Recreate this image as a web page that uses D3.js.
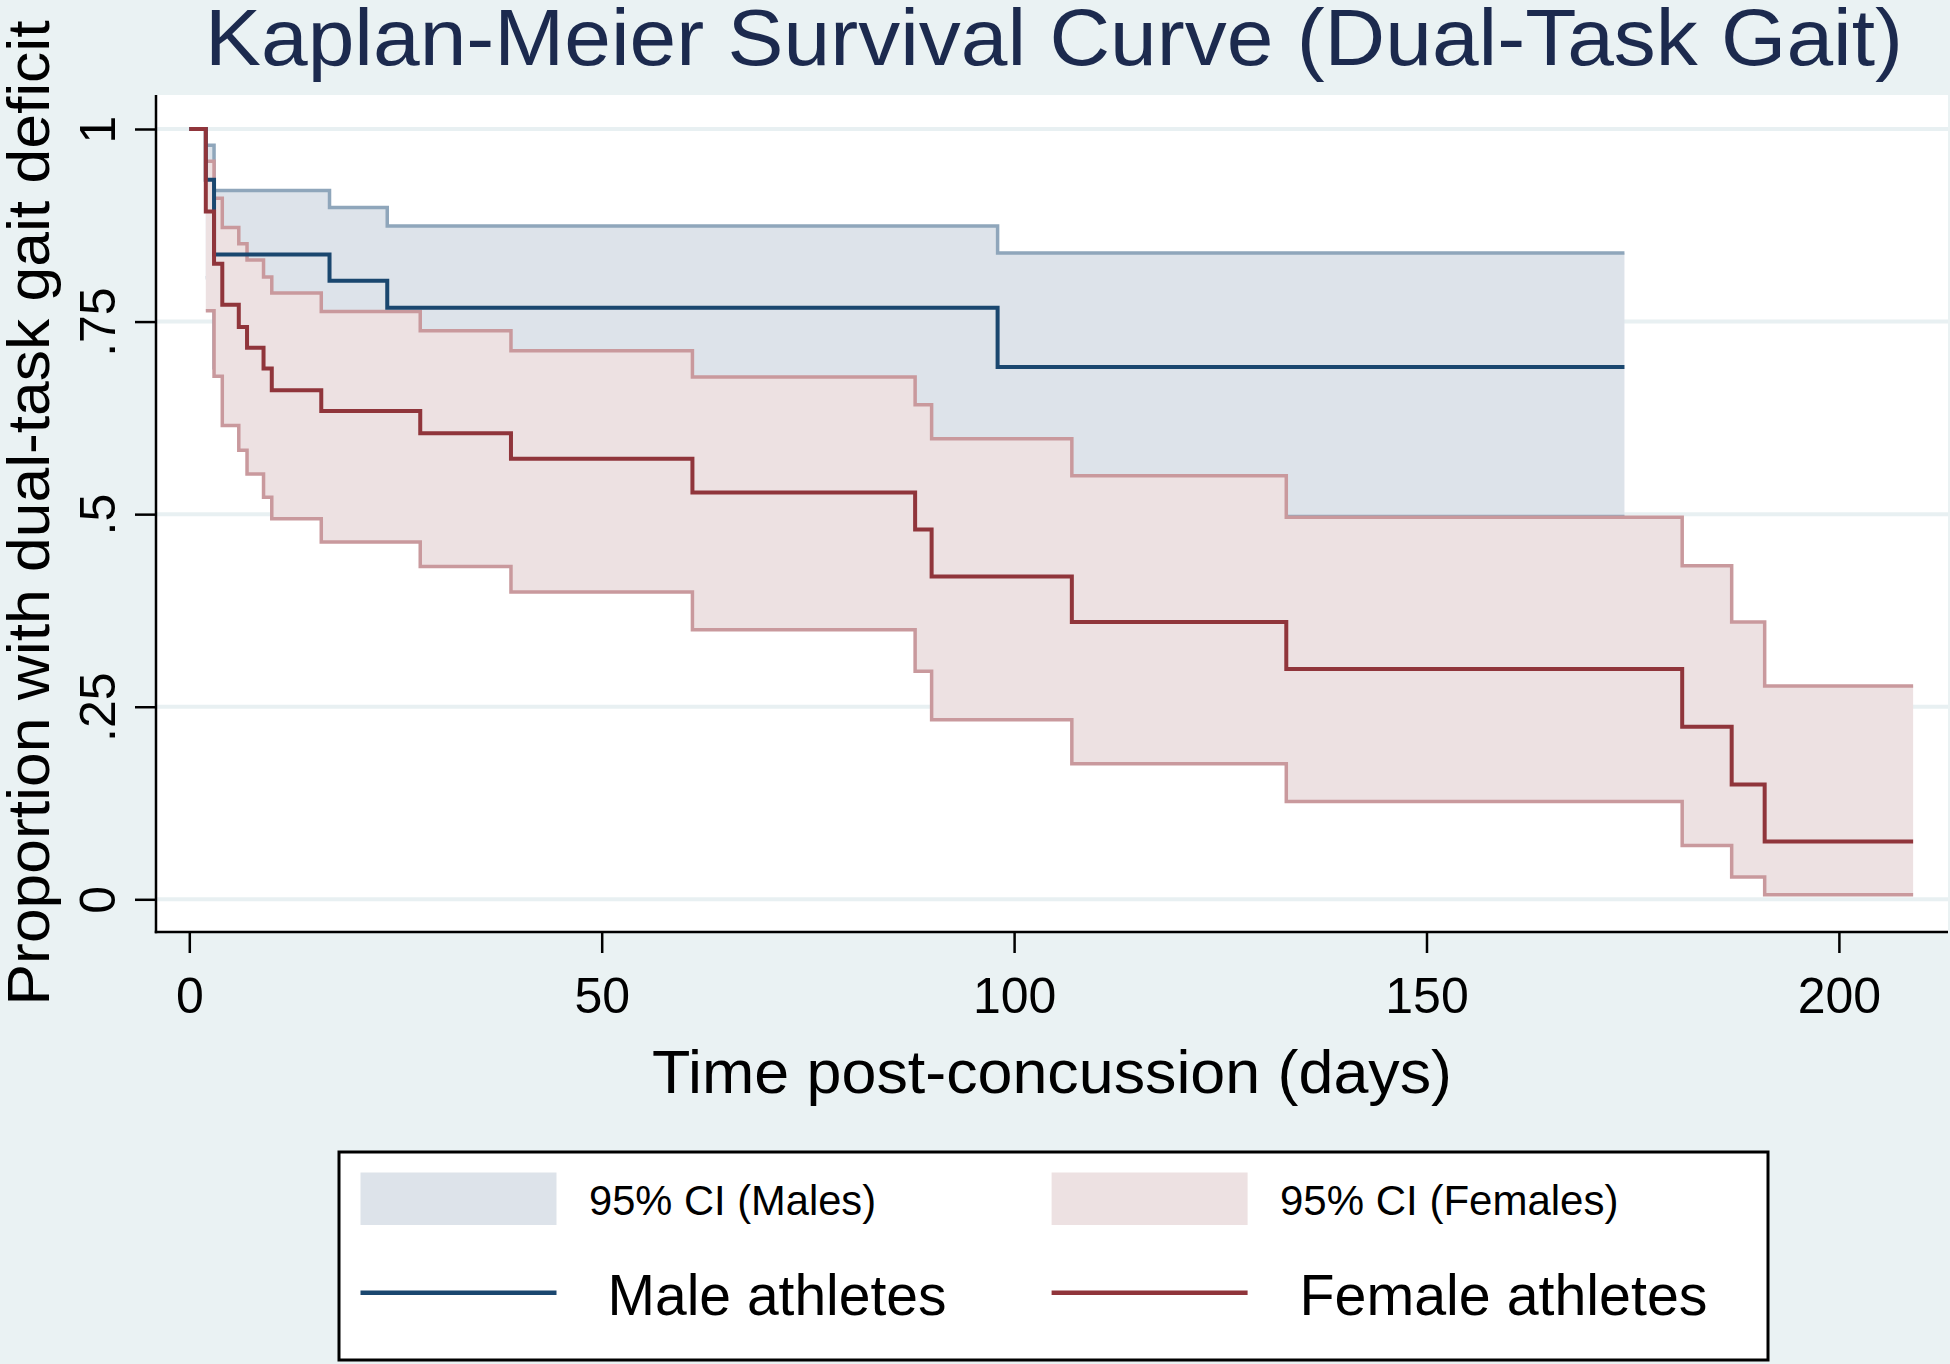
<!DOCTYPE html>
<html>
<head>
<meta charset="utf-8">
<script src="https://cdn.jsdelivr.net/npm/d3@7"></script>
<style>
  html, body { margin: 0; padding: 0; background: #eaf2f3; }
  svg { display: block; }
  text { font-family: "Liberation Sans", Arial, Helvetica, sans-serif; }
</style>
</head>
<body>
<svg id="chart" width="1950" height="1364"></svg>
<script>
// ---------------- data ----------------
const titleText = "Kaplan-Meier Survival Curve (Dual-Task Gait)";
const xAxisTitle = "Time post-concussion (days)";
const yAxisTitle = "Proportion with dual-task gait deficit";
const xTicks = [0, 50, 100, 150, 200];
const yTicks = [0, 0.25, 0.5, 0.75, 1];
const yTickLabels = ["0", ".25", ".5", ".75", "1"];

// Male athletes: KM estimate (step after each time)
const maleTimes = [0, 2, 3, 17, 24, 98, 174];
const maleSurv  = [1, 0.934, 0.837, 0.803, 0.768, 0.691, 0.691];
const maleCITimes = [2, 3, 17, 24, 98, 174];
const maleUpper   = [0.979, 0.920, 0.898, 0.874, 0.839, 0.839];
const maleLower   = [0.807, 0.690, 0.610, 0.575, 0.497, 0.497];

// Female athletes
const femaleTimes = [0, 2, 3, 4, 6, 7, 9, 10, 16, 28, 39, 61, 88, 90, 107, 133, 181, 187, 191, 209];
const femaleSurv  = [1, 0.893, 0.825, 0.772, 0.743, 0.716, 0.689, 0.661, 0.634, 0.605, 0.572, 0.528, 0.480, 0.419, 0.360, 0.299, 0.224, 0.149, 0.075, 0.075];
const femaleCITimes = [2, 3, 4, 6, 7, 9, 10, 16, 28, 39, 61, 88, 90, 107, 133, 181, 187, 191, 209];
const femaleUpper   = [0.958, 0.910, 0.872, 0.851, 0.830, 0.808, 0.787, 0.763, 0.738, 0.712, 0.678, 0.642, 0.598, 0.550, 0.496, 0.433, 0.360, 0.277, 0.277];
const femaleLower   = [0.764, 0.679, 0.615, 0.583, 0.552, 0.522, 0.494, 0.464, 0.432, 0.399, 0.350, 0.296, 0.233, 0.176, 0.127, 0.070, 0.029, 0.006, 0.006];

const legendItems = [
  {label: "95% CI (Males)", kind: "area", group: "male"},
  {label: "95% CI (Females)", kind: "area", group: "female"},
  {label: "Male athletes", kind: "line", group: "male"},
  {label: "Female athletes", kind: "line", group: "female"}
];

// ---------------- styles ----------------
const colors = {
  bg: "#eaf2f3",
  grid: "#e8f0f2",
  title: "#1c2a4e",
  maleLine: "#1a476f",
  maleCIFill: "#dde3ea",
  maleCILine: "#8fa6bb",
  femaleLine: "#90353b",
  femaleCIFill: "#ede1e2",
  femaleCILine: "#c9999d"
};

const svg = d3.select("#chart");
const W = 1950, H = 1364;
const plot = {left: 156, right: 1948, top: 95, bottom: 932};

svg.append("rect").attr("width", W).attr("height", H).attr("fill", colors.bg);
svg.append("rect")
  .attr("x", plot.left).attr("y", plot.top)
  .attr("width", plot.right - plot.left).attr("height", plot.bottom - plot.top)
  .attr("fill", "#ffffff");

const x = d3.scaleLinear().domain([0, 50]).range([189.3, 601.7]);
const y = d3.scaleLinear().domain([0, 1]).range([899.3, 129]);

// gridlines
svg.append("g").selectAll("line").data(yTicks).join("line")
  .attr("x1", plot.left).attr("x2", plot.right)
  .attr("y1", d => y(d)).attr("y2", d => y(d))
  .attr("stroke", colors.grid).attr("stroke-width", 4);

function zip(ts, vs) { return ts.map((t, i) => [t, vs[i]]); }
function zip3(ts, lo, hi) { return ts.map((t, i) => ({t, lo: lo[i], hi: hi[i]})); }

const stepLine = d3.line().x(d => x(d[0])).y(d => y(d[1])).curve(d3.curveStepAfter);
const stepArea = d3.area().x(d => x(d.t)).y0(d => y(d.lo)).y1(d => y(d.hi)).curve(d3.curveStepAfter);

const g = svg.append("g");

// male CI
g.append("path").attr("d", stepArea(zip3(maleCITimes, maleLower, maleUpper)))
  .attr("fill", colors.maleCIFill);
g.append("path").attr("d", stepLine(zip(maleCITimes, maleUpper)))
  .attr("fill", "none").attr("stroke", colors.maleCILine).attr("stroke-width", 3.5);
g.append("path").attr("d", stepLine(zip(maleCITimes, maleLower)))
  .attr("fill", "none").attr("stroke", colors.maleCILine).attr("stroke-width", 3.5);

// female CI
g.append("path").attr("d", stepArea(zip3(femaleCITimes, femaleLower, femaleUpper)))
  .attr("fill", colors.femaleCIFill);
g.append("path").attr("d", stepLine(zip(femaleCITimes, femaleUpper)))
  .attr("fill", "none").attr("stroke", colors.femaleCILine).attr("stroke-width", 3.5);
g.append("path").attr("d", stepLine(zip(femaleCITimes, femaleLower)))
  .attr("fill", "none").attr("stroke", colors.femaleCILine).attr("stroke-width", 3.5);

// main curves
g.append("path").attr("d", stepLine(zip(maleTimes, maleSurv)))
  .attr("fill", "none").attr("stroke", colors.maleLine).attr("stroke-width", 4);
g.append("path").attr("d", stepLine(zip(femaleTimes, femaleSurv)))
  .attr("fill", "none").attr("stroke", colors.femaleLine).attr("stroke-width", 4);

// axes
const yAxis = d3.axisLeft(y).tickValues(yTicks).tickSize(21)
  .tickFormat((d, i) => yTickLabels[i]);
const yG = svg.append("g").attr("transform", `translate(${plot.left},0)`).call(yAxis);
yG.select(".domain").remove();
yG.selectAll(".tick line").attr("stroke", "#000").attr("stroke-width", 2.5);
yG.selectAll(".tick text")
  .attr("x", null).attr("y", null).attr("dy", null)
  .attr("text-anchor", "middle")
  .attr("transform", "translate(-41,0) rotate(-90)")
  .attr("font-size", 50).attr("fill", "#000")
  .style("font-family", "'Liberation Sans', Arial, sans-serif");

const xAxis = d3.axisBottom(x).tickValues(xTicks).tickSize(21);
const xG = svg.append("g").attr("transform", `translate(0,${plot.bottom})`).call(xAxis);
xG.select(".domain").remove();
xG.selectAll(".tick line").attr("stroke", "#000").attr("stroke-width", 2.5);
xG.selectAll(".tick text")
  .attr("y", 81).attr("dy", null)
  .attr("font-size", 50).attr("fill", "#000")
  .style("font-family", "'Liberation Sans', Arial, sans-serif");

// axis lines
svg.append("line").attr("x1", plot.left).attr("x2", plot.left)
  .attr("y1", plot.top).attr("y2", plot.bottom + 1.25)
  .attr("stroke", "#000").attr("stroke-width", 2.5);
svg.append("line").attr("x1", plot.left - 1.25).attr("x2", plot.right)
  .attr("y1", plot.bottom).attr("y2", plot.bottom)
  .attr("stroke", "#000").attr("stroke-width", 2.5);

// titles
function fitText(sel, len) {
  const w = sel.node().getComputedTextLength();
  if (Math.abs(w - len) > 2) sel.attr("textLength", len).attr("lengthAdjust", "spacingAndGlyphs");
}
const tt = svg.append("text").attr("x", 1054).attr("y", 65)
  .attr("text-anchor", "middle").attr("font-size", 80).attr("fill", colors.title)
  .text(titleText);
fitText(tt, 1698);

const xt = svg.append("text").attr("x", 1052).attr("y", 1093)
  .attr("text-anchor", "middle").attr("font-size", 61).attr("fill", "#000")
  .text(xAxisTitle);
fitText(xt, 800);

const yt = svg.append("text")
  .attr("transform", "translate(49,513) rotate(-90)")
  .attr("text-anchor", "middle").attr("font-size", 60).attr("fill", "#000")
  .text(yAxisTitle);
fitText(yt, 985);

// legend
const lg = svg.append("g");
lg.append("rect").attr("x", 339).attr("y", 1152).attr("width", 1429)
  .attr("height", 208)
  .attr("fill", "#fff").attr("stroke", "#000").attr("stroke-width", 3);

const colX = [360.5, 1051.6];
const swW = 196;
const legendLayout = [
  {col: 0, row: 0, tx: 589, tw: 287, fs: 42},
  {col: 1, row: 0, tx: 1280, tw: 337, fs: 42},
  {col: 0, row: 1, tx: 607.5, tw: 340, fs: 57},
  {col: 1, row: 1, tx: 1299.5, tw: 408, fs: 57}
];
legendItems.forEach((it, i) => {
  const L = legendLayout[i];
  const sx = colX[L.col];
  if (it.kind === "area") {
    lg.append("rect").attr("x", sx).attr("y", 1172.5).attr("width", swW).attr("height", 52.5)
      .attr("fill", it.group === "male" ? colors.maleCIFill : colors.femaleCIFill);
    const t = lg.append("text").attr("x", L.tx).attr("y", 1215).attr("font-size", L.fs)
      .attr("fill", "#000").text(it.label);
    fitText(t, L.tw);
  } else {
    lg.append("line").attr("x1", sx).attr("x2", sx + swW).attr("y1", 1292.7).attr("y2", 1292.7)
      .attr("stroke", it.group === "male" ? colors.maleLine : colors.femaleLine)
      .attr("stroke-width", 4.5);
    const t = lg.append("text").attr("x", L.tx).attr("y", 1315).attr("font-size", L.fs)
      .attr("fill", "#000").text(it.label);
    fitText(t, L.tw);
  }
});
</script>
</body>
</html>
